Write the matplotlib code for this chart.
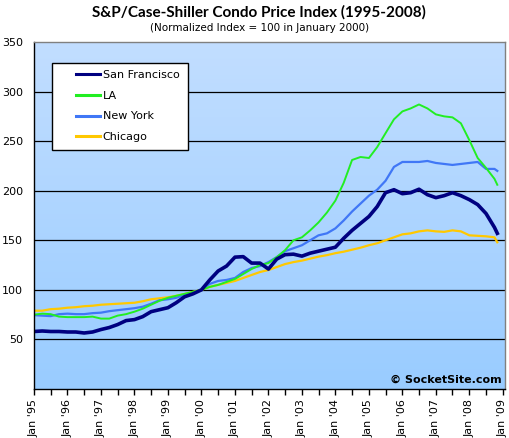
# Case-Shiller condo index chart (SocketSite style)

import numpy as np
import pandas as pd
import matplotlib
matplotlib.use("Agg")
import matplotlib.pyplot as plt
import matplotlib.dates as mdates
from matplotlib.ticker import FixedLocator
from matplotlib.legend_handler import HandlerLine2D

# ------------------------------------------------------------
# data — quarterly readings (Jan/Apr/Jul/Oct), last point Nov 2008
# ------------------------------------------------------------

DATES = list(pd.date_range("1995-01-01", "2008-10-01", freq="QS")) + [pd.Timestamp("2008-11-01")]

SAN_FRANCISCO = [
    58, 58.5, 58, 58, 57.5, 57.5, 56.5, 57.5,
    60, 62, 65, 69, 70, 73, 78, 80,
    82, 87, 93, 96, 100, 110, 119, 124,
    133, 133.5, 127, 127, 121, 131, 135.5, 136,
    134, 137, 139, 141, 143, 152, 160, 167,
    174, 184, 198, 201, 197, 198, 201.5, 196,
    193, 195, 198, 195, 191, 186, 177, 163, 157,
]

LA = [
    75, 76, 75.5, 73, 72.5, 72.5, 72.5, 73,
    71, 71, 74, 75.5, 78, 81, 85, 89,
    92, 94, 96, 98, 100, 103, 105, 108,
    111, 116, 121, 125, 127, 133, 140, 150,
    153, 160, 168, 178, 190, 208, 231, 234,
    233, 244, 258, 272, 280, 283, 287, 283,
    277, 275, 274, 268, 251, 233, 223, 212, 206,
]

NEW_YORK = [
    74.5, 74, 73.5, 75.5, 76, 75.5, 75.5, 76.5,
    77, 78.5, 79.5, 80.5, 81.5, 83, 86, 89.5,
    90.5, 92, 95, 97, 100, 106, 109, 110,
    112, 118, 122, 124, 128, 133, 139, 142,
    145, 150, 155, 157, 162, 170, 179, 187,
    195, 201, 210, 224, 229, 229, 229, 230,
    228, 227, 226, 227, 228, 229, 222, 222, 220,
]

CHICAGO = [
    79, 79, 80.5, 81, 82, 82.5, 83.5, 84,
    85, 85.5, 86, 86.5, 87, 88.5, 90.5, 91.5,
    92.5, 94, 95.8, 98, 100, 103, 105, 107,
    109, 112, 115, 118, 120, 123, 126, 128,
    129.5, 131.5, 133.5, 135, 137, 138.5, 140.5, 142.5,
    145, 147, 150, 153, 156, 157, 159, 160,
    159, 158.5, 160, 159, 155, 154.5, 154, 153, 148,
]

SERIES = [
    ("San Francisco", SAN_FRANCISCO, "#000080", 2.6, 5),
    ("LA",            LA,            "#22EE22", 1.4, 4),
    ("New York",      NEW_YORK,      "#4077F6", 1.6, 3),
    ("Chicago",       CHICAGO,       "#FFC800", 1.6, 2),
]

Y_TICKS = [50, 100, 150, 200, 250, 300, 350]
YEARS = list(range(1995, 2010))

TITLE = "S&P/Case-Shiller Condo Price Index (1995-2008)"
SUBTITLE = "(Normalized Index = 100 in January 2000)"
CREDIT = "\u00a9 SocketSite.com"


class RightLine(HandlerLine2D):
    """Legend line drawn only on the right part of the handle box."""
    def create_artists(self, legend, orig_handle, xdescent, ydescent,
                       width, height, fontsize, trans):
        arts = super().create_artists(legend, orig_handle, xdescent, ydescent,
                                      width, height, fontsize, trans)
        for a in arts:
            xd = np.asarray(a.get_xdata(), dtype=float)
            if len(xd) >= 2:
                x0 = xd[0] + 0.40 * (xd[-1] - xd[0])
                a.set_xdata(np.linspace(x0, xd[-1], len(xd)))
        return arts


def main():
    fig = plt.figure(figsize=(5.10, 4.38), dpi=100)
    ax = fig.add_axes([34 / 510, 49 / 438, 471 / 510, 347 / 438])

    # gradient background, lighter at top
    grad = np.linspace(0, 1, 256).reshape(-1, 1)
    top = np.array([0.76, 0.87, 1.0])
    bot = np.array([0.60, 0.80, 1.0])
    img = top + (bot - top) * grad[:, :, None] * np.ones((1, 1, 3))
    ax.imshow(img, extent=[0, 1, 0, 1], transform=ax.transAxes,
              aspect="auto", zorder=0)

    for yv in Y_TICKS[:-1]:
        ax.axhline(yv, color="black", lw=0.9, zorder=1)

    handles = []
    for name, vals, color, lw, z in SERIES:
        h, = ax.plot(DATES, vals, color=color, lw=lw, zorder=z, label=name,
                     solid_joinstyle="round")
        handles.append(h)

    ax.set_xlim(pd.Timestamp("1995-01-01"), pd.Timestamp("2009-01-24"))
    ax.set_ylim(0, 350)

    ax.set_yticks(Y_TICKS)
    ax.set_yticklabels([str(v) for v in Y_TICKS], fontsize=8)
    ax.tick_params(axis="y", length=0, pad=8)

    major = [mdates.date2num(pd.Timestamp(f"{y}-01-01")) for y in YEARS]
    minor = [mdates.date2num(pd.Timestamp(f"{y}-07-01")) for y in YEARS[:-1]]
    ax.xaxis.set_major_locator(FixedLocator(major))
    ax.xaxis.set_minor_locator(FixedLocator(minor))
    ax.set_xticklabels([f"Jan '{y % 100:02d}" for y in YEARS], rotation=90, fontsize=8)
    ax.tick_params(axis="x", which="major", length=4, width=1, color="black", pad=3)
    ax.tick_params(axis="x", which="minor", length=4, width=1, color="black")

    ax.spines["left"].set_color("black")
    ax.spines["bottom"].set_color("black")
    ax.spines["top"].set_color("#808080")
    ax.spines["right"].set_color("#808080")
    for s in ax.spines.values():
        s.set_linewidth(1)
        s.set_zorder(6)

    leg = ax.legend(handles=handles, loc="upper left",
                    bbox_to_anchor=(18 / 471, 1 - 24 / 347, 136 / 471, 0.01),
                    mode="expand",
                    fontsize=8, frameon=True, fancybox=False,
                    edgecolor="black", facecolor="white", framealpha=1,
                    handlelength=3.6, handletextpad=0.25,
                    labelspacing=0.95, borderpad=0.7, borderaxespad=0,
                    handler_map={matplotlib.lines.Line2D: RightLine()})
    leg.get_frame().set_linewidth(1)
    leg.set_zorder(7)
    for line in leg.get_lines():
        line.set_linewidth(2.2)

    fig.text(0.508, 1 - 12 / 438, TITLE, ha="center", va="center",
             fontsize=11, fontweight="bold", family=["Lato", "DejaVu Sans"])
    fig.text(0.508, 1 - 28 / 438, SUBTITLE, ha="center", va="center",
             fontsize=7.5)
    ax.text(0.993, 0.028, CREDIT, transform=ax.transAxes, ha="right",
            va="center", fontsize=8, fontweight="bold", zorder=8)

    fig.savefig("out.png", dpi=100)


if __name__ == "__main__":
    main()
